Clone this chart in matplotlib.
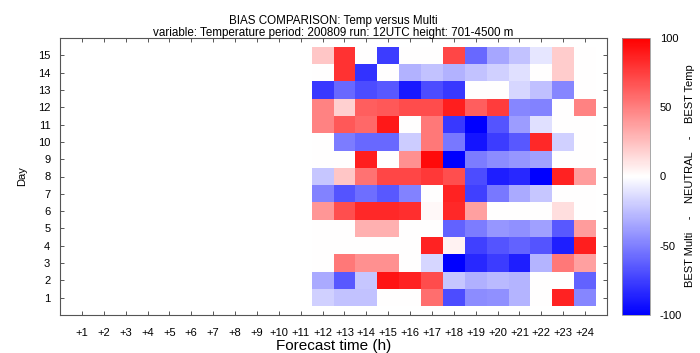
import numpy as np
import matplotlib
matplotlib.use("Agg")
import matplotlib.pyplot as plt

plt.rcParams['font.family'] = ['Liberation Sans', 'DejaVu Sans']
plt.rcParams['axes.unicode_minus'] = False

# forecast hours with data (+12 .. +24) and all hours on the axis
hours = list(range(12, 25))
hour_labels = ['+%d' % h for h in range(1, 25)]
days = list(range(1, 16))

# bias score per day, one value per hour +12..+24
d15 = [22, 80, 0, -76, 0, 0, 72, -59, -35, -24, -10, 20, 0]
d14 = [0, 80, -80, 0, -30, -24, -30, -24, -18, -12, 0, 20, 0]
d13 = [-78, -59, -70, -65, -90, -70, -78, 0, 0, -16, -25, -47, 0]
d12 = [49, 18, 63, 65, 70, 70, 88, 63, 76, -47, -49, 0, 49]
d11 = [49, 65, 59, 90, 0, 53, -78, -100, -67, -39, -12, 0, 0]
d10 = [0, -51, -59, -59, -20, 53, -53, -92, -76, -65, 84, -18, 0]
d9 = [0, 0, 88, 0, 43, 96, -100, -51, -45, -41, -37, 0, 0]
d8 = [-22, 22, 55, 72, 72, 78, 69, -70, -88, -84, -100, 86, 39]
d7 = [-49, -67, -57, -65, -49, 0, 86, -75, -53, -33, -22, 0, 0]
d6 = [41, 69, 84, 84, 82, 3, 84, 37, 0, 0, 0, 13, 0]
d5 = [0, 0, 31, 31, 0, 0, -61, -51, -41, -43, -37, -65, 39]
d4 = [0, 0, 0, 0, 0, 86, 5, -75, -67, -61, -67, -88, 88]
d3 = [0, 53, 43, 43, 0, -16, -100, -84, -76, -88, -29, 53, 37]
d2 = [-33, -65, -22, 92, 86, 70, -22, -31, -27, -29, 0, 0, -61]
d1 = [-18, -24, -24, 0, 0, 57, -70, -45, -43, -29, 0, 86, -47]

vals = np.array([d1, d2, d3, d4, d5, d6, d7, d8, d9, d10, d11, d12, d13, d14, d15], float)

fig = plt.figure(figsize=(7, 3.53), dpi=100)
ax = fig.add_axes([60/700, 1-315/353, 547/700, 277/353])
cax = fig.add_axes([622/700, 1-315/353, 28/700, 277/353])

xe = np.arange(hours[0]-0.5, hours[-1]+1.0, 1.0)
ye = np.arange(days[0]-0.5, days[-1]+1.0, 1.0)
mesh = ax.pcolormesh(xe, ye, vals, cmap='bwr', vmin=-100, vmax=100)

ax.set_xlim(0, 25)
ax.set_ylim(0, 16)
ax.set_xticks(range(1, 25))
ax.set_xticklabels(hour_labels)
ax.set_yticks(days)
edge = '#555555'
for s in ax.spines.values():
    s.set_color(edge)
    s.set_linewidth(0.8)
ax.tick_params(axis='both', direction='in', length=3, width=0.7, color=edge,
               labelsize=8, top=True, right=True)
ax.tick_params(axis='x', pad=9)
ax.tick_params(axis='y', pad=7)
ax.set_xlabel('Forecast time (h)', fontsize=11, labelpad=1)
ax.set_ylabel('Day', fontsize=8, labelpad=8)

cb = fig.colorbar(mesh, cax=cax, ticks=[-100, -50, 0, 50, 100])
cb.outline.set_edgecolor('#999999')
cb.outline.set_linewidth(0.6)
cax.tick_params(length=0, labelsize=8, pad=7)

fig.text(333.5/700, 1-21/353, 'BIAS COMPARISON: Temp versus Multi',
         ha='center', va='center', fontsize=8.4)
fig.text(333.5/700, 1-33/353,
         'variable: Temperature period: 200809 run: 12UTC height: 701-4500 m',
         ha='center', va='center', fontsize=8.4)
fig.text(690/700, 1-176/353, 'BEST Multi    -    NEUTRAL    -    BEST Temp',
         rotation=90, ha='center', va='center', fontsize=8)

fig.savefig('out.png', dpi=100)
